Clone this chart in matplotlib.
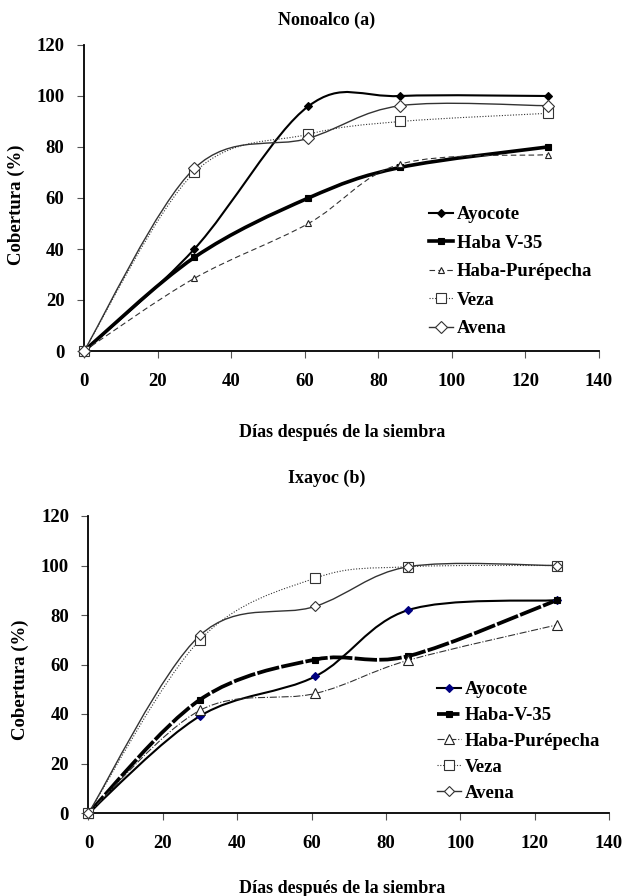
import numpy as np
import matplotlib
matplotlib.use("Agg")
from matplotlib import pyplot as plt
from matplotlib.path import Path
from matplotlib.patches import PathPatch
from matplotlib.lines import Line2D

plt.rcParams['font.family'] = ['Liberation Serif', 'DejaVu Serif']
plt.rcParams['font.weight'] = 'bold'

# days after sowing (same for both sites)
dias = [0, 30, 61, 86, 126]

# Nonoalco (a)
a_ayocote = [0, 40, 96, 100, 100]
a_haba_v35 = [0, 36.7, 60, 72, 80]
a_haba_pur = [0, 28.5, 50, 73.3, 77]
a_veza = [0, 70, 85, 90, 93.2]
a_avena = [0, 71.6, 83.4, 96.2, 96.2]

# Ixayoc (b)
b_ayocote = [0, 39.2, 55.2, 82, 86]
b_haba_v35 = [0, 45.8, 62, 63.4, 86]
b_haba_pur = [0, 41.5, 48.3, 61.7, 76]
b_veza = [0, 70, 94.9, 99.5, 100]
b_avena = [0, 71.8, 83.5, 99.5, 100]

labels_a = ["Ayocote", "Haba V-35", "Haba-Purépecha", "Veza", "Avena"]
labels_b = ["Ayocote", "Haba-V-35", "Haba-Purépecha", "Veza", "Avena"]

W, H = 627, 896


def smooth_path(x, y):
    # excel-like smoothed line: cubic bezier through every point
    pts = np.column_stack([x, y]).astype(float)
    ext = np.vstack([pts[0], pts, pts[-1]])
    verts = [pts[0]]
    codes = [Path.MOVETO]
    for i in range(len(pts) - 1):
        p0, p1, p2, p3 = ext[i], ext[i + 1], ext[i + 2], ext[i + 3]
        verts += [p1 + (p2 - p0) / 6, p2 - (p3 - p1) / 6, p2]
        codes += [Path.CURVE4] * 3
    return Path(verts, codes)


def draw_series(ax, x, y, st):
    patch = PathPatch(smooth_path(x, y), fill=False, edgecolor=st['color'],
                      lw=st['lw'], linestyle=st['ls'], capstyle='butt', clip_on=False)
    ax.add_patch(patch)
    ax.plot(x, y, ls='none', marker=st['marker'], ms=st['ms'], mfc=st['mfc'],
            mec=st['mec'], mew=st['mew'], clip_on=False, zorder=5)
    return Line2D([], [], color=st['color'], lw=st['lw'], linestyle=st['ls'],
                  marker=st['marker'], ms=st['ms'], mfc=st['mfc'], mec=st['mec'], mew=st['mew'])


def style_axes(ax):
    ax.set_xlim(0, 140)
    ax.set_ylim(0, 120)
    ax.set_xticks(range(0, 141, 20))
    ax.set_yticks(range(0, 121, 20))
    for s in ['top', 'right']:
        ax.spines[s].set_visible(False)
    for s in ['left', 'bottom']:
        ax.spines[s].set_linewidth(1.3)
    ax.tick_params(axis='both', direction='out', length=5, width=0.8, color='#555555',
                   labelsize=13.5)
    ax.tick_params(axis='x', pad=11)
    ax.tick_params(axis='y', pad=9)


styles_a = [
    dict(color='black', lw=1.5, ls='-', marker='D', ms=4.5, mfc='black', mec='black', mew=0.8),
    dict(color='black', lw=2.6, ls='-', marker='s', ms=4.5, mfc='black', mec='black', mew=0.8),
    dict(color='#333333', lw=0.8, ls=(0, (5, 3)), marker='^', ms=4, mfc='white', mec='#222222', mew=0.8),
    dict(color='#333333', lw=0.8, ls=(0, (1, 1.5)), marker='s', ms=7, mfc='white', mec='#333333', mew=0.8),
    dict(color='#333333', lw=1.0, ls='-', marker='D', ms=6, mfc='white', mec='#333333', mew=0.8),
]
styles_b = [
    dict(color='black', lw=1.5, ls='-', marker='D', ms=4.5, mfc='#000080', mec='#000080', mew=0.8),
    dict(color='black', lw=2.7, ls=(0, (6, 0.6)), marker='s', ms=5, mfc='black', mec='black', mew=0.8),
    dict(color='#333333', lw=0.8, ls='-.', marker='^', ms=7, mfc='white', mec='#222222', mew=0.8),
    dict(color='#333333', lw=0.8, ls=(0, (1, 1.5)), marker='s', ms=6.5, mfc='white', mec='#333333', mew=0.8),
    dict(color='#333333', lw=1.0, ls='-', marker='D', ms=5, mfc='white', mec='#333333', mew=0.8),
]

fig = plt.figure(figsize=(W / 100, H / 100), dpi=100)

ax1 = fig.add_axes([84 / W, 1 - 351 / H, 515 / W, 306 / H])
ax2 = fig.add_axes([88.5 / W, 1 - 813 / H, 520.5 / W, 297 / H])

series_a = [a_ayocote, a_haba_v35, a_haba_pur, a_veza, a_avena]
series_b = [b_ayocote, b_haba_v35, b_haba_pur, b_veza, b_avena]

handles_a = [draw_series(ax1, dias, ys, st) for ys, st in zip(series_a, styles_a)]
handles_b = [draw_series(ax2, dias, ys, st) for ys, st in zip(series_b, styles_b)]

style_axes(ax1)
style_axes(ax2)

ax1.legend(handles_a, labels_a, loc='upper left', bbox_to_anchor=(429 / W, 1 - 206 / H),
           bbox_transform=fig.transFigure, frameon=False, fontsize=13.5, borderpad=0,
           borderaxespad=0, handlelength=1.3, handletextpad=0.2, labelspacing=0.61)
ax2.legend(handles_b, labels_b, loc='upper left', bbox_to_anchor=(437 / W, 1 - 681 / H),
           bbox_transform=fig.transFigure, frameon=False, fontsize=13.5, borderpad=0,
           borderaxespad=0, handlelength=1.3, handletextpad=0.2, labelspacing=0.47)

fig.text(327 / W, 1 - 20 / H, "Nonoalco (a)", ha='center', va='center', fontsize=13)
fig.text(327 / W, 1 - 478 / H, "Ixayoc (b)", ha='center', va='center', fontsize=13)
fig.text(342 / W, 1 - 432 / H, "Días después de la siembra", ha='center', va='center', fontsize=13)
fig.text(342 / W, 1 - 888 / H, "Días después de la siembra", ha='center', va='center', fontsize=13)
fig.text(16 / W, 1 - 205 / H, "Cobertura (%)", ha='center', va='center', rotation=90, fontsize=13.5)
fig.text(20 / W, 1 - 680 / H, "Cobertura (%)", ha='center', va='center', rotation=90, fontsize=13.5)

fig.savefig("out.png", dpi=100)
